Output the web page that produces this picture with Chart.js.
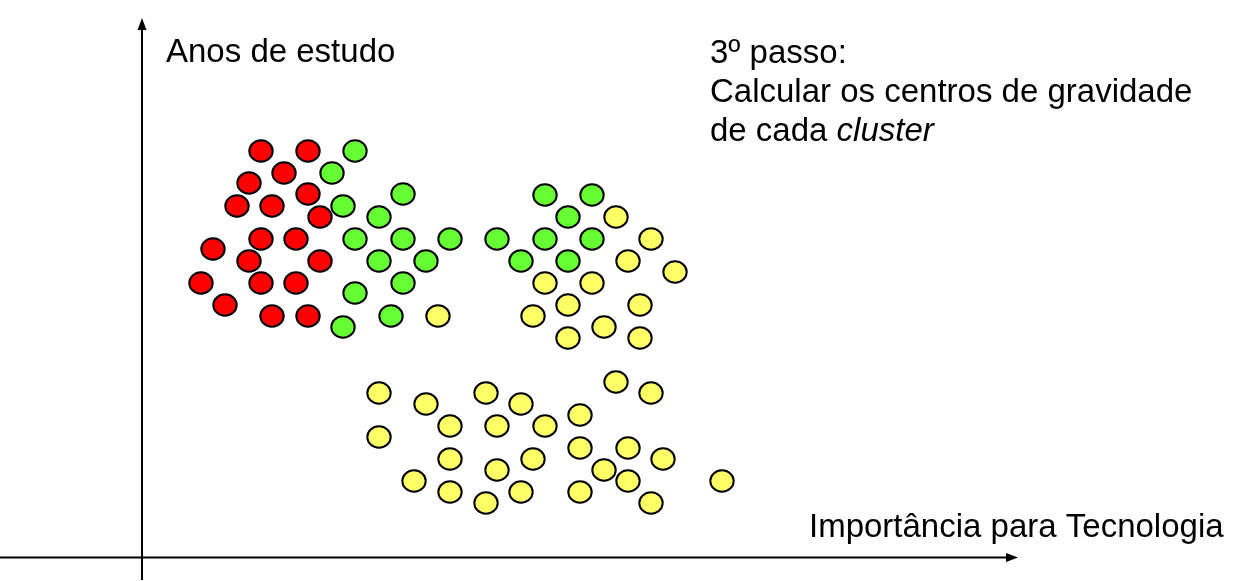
<!DOCTYPE html>
<html>
<head>
<meta charset="utf-8">
<script src="https://cdn.jsdelivr.net/npm/chart.js@4/dist/chart.umd.min.js"></script>
<style>
html,body{margin:0;padding:0;background:#fff;}
canvas{display:block;}
</style>
</head>
<body>
<canvas id="c" width="1246" height="581"></canvas>
<script>
// Values: x = importance for technology, y = years of study (arbitrary units)
const redX = [118,165,141,106,165,94,129,177,118,153,70,106,177,58,118,153,82,129,165];
const redY = [406,406,384,374,363,351,351,340,318,318,308,296,296,274,274,274,252,241,241];

const greenX = [212,189,260,200,236,212,260,307,236,283,260,212,248,200,402,449,425,354,402,449,378,425];
const greenY = [406,384,363,351,340,318,318,318,296,296,274,264,241,230,362,362,340,318,318,318,296,296];

const yellowX = [295,473,508,485,532,402,449,425,497,390,461,425,497,
  236,283,343,378,473,508,307,354,402,437,236,307,390,437,485,520,354,461,271,485,579,307,378,437,343,508];
const yellowY = [241,340,318,296,285,274,274,252,252,241,230,219,219,
  164,153,164,153,175,164,131,131,131,142,120,98,98,109,109,98,87,87,76,76,76,65,65,65,54,54];

const yAxisTitle = "Anos de estudo";
const xAxisTitle = "Importância para Tecnologia";
const noteLines = ["3º passo:", "Calcular os centros de gravidade"];
const noteLast = ["de cada ", "cluster"];

function pts(xs, ys){ return xs.map((x,i)=>({x:x, y:ys[i]})); }

function ellipseMarker(fill){
  const c = document.createElement('canvas');
  c.width = 28; c.height = 26;
  const g = c.getContext('2d');
  g.beginPath();
  g.ellipse(14, 13, 11.7, 10.7, 0, 0, Math.PI*2);
  g.fillStyle = fill; g.fill();
  g.lineWidth = 2; g.strokeStyle = '#000'; g.stroke();
  return c;
}

const FONT = "'Liberation Sans', Arial, sans-serif";

const decor = {
  id: 'decor',
  beforeDatasetsDraw(chart){
    const ctx = chart.ctx, xs = chart.scales.x, ys = chart.scales.y;
    const ox = Math.round(xs.getPixelForValue(0)) - 1, oy = Math.round(ys.getPixelForValue(0)) + 0.5;
    ctx.save();
    ctx.strokeStyle = '#000'; ctx.fillStyle = '#000'; ctx.lineWidth = 2;
    // y axis
    const yTop = 18;
    ctx.beginPath(); ctx.moveTo(ox, 580); ctx.lineTo(ox, yTop + 10); ctx.stroke();
    ctx.beginPath(); ctx.moveTo(ox, yTop); ctx.lineTo(ox - 4.5, yTop + 12); ctx.lineTo(ox + 4.5, yTop + 12); ctx.closePath(); ctx.fill();
    // x axis
    const xTip = 1018;
    ctx.beginPath(); ctx.moveTo(0, oy); ctx.lineTo(xTip - 10, oy); ctx.stroke();
    ctx.beginPath(); ctx.moveTo(xTip, oy); ctx.lineTo(xTip - 12, oy - 4.5); ctx.lineTo(xTip - 12, oy + 4.5); ctx.closePath(); ctx.fill();
    ctx.restore();
  },
  afterDraw(chart){
    const ctx = chart.ctx;
    ctx.save();
    ctx.fillStyle = '#000';
    ctx.textBaseline = 'alphabetic';
    ctx.font = "33px " + FONT;
    ctx.fillText(yAxisTitle, 166, 62);
    ctx.fillText(xAxisTitle, 809, 537);
    ctx.fillText(noteLines[0], 710, 63);
    ctx.fillText(noteLines[1], 710, 102);
    ctx.fillText(noteLast[0], 710, 141);
    const w = ctx.measureText(noteLast[0]).width;
    ctx.font = "italic 33px " + FONT;
    ctx.fillText(noteLast[1], 710 + w, 141);
    ctx.restore();
  }
};

new Chart(document.getElementById('c'), {
  type: 'scatter',
  data: {
    datasets: [
      {label:'red', data: pts(redX, redY), pointStyle: ellipseMarker('#ff0000')},
      {label:'green', data: pts(greenX, greenY), pointStyle: ellipseMarker('#66ff33')},
      {label:'yellow', data: pts(yellowX, yellowY), pointStyle: ellipseMarker('#ffff66')}
    ]
  },
  options: {
    responsive: false,
    animation: false,
    events: [],
    layout: {padding: 0, autoPadding: false},
    plugins: {legend:{display:false}, tooltip:{enabled:false}},
    scales: {
      x: {type:'linear', min:-143, max:1103, display:false},
      y: {type:'linear', min:-24, max:557, display:false}
    },
    elements: {point: {radius: 12}}
  },
  plugins: [decor]
});
</script>
</body>
</html>
